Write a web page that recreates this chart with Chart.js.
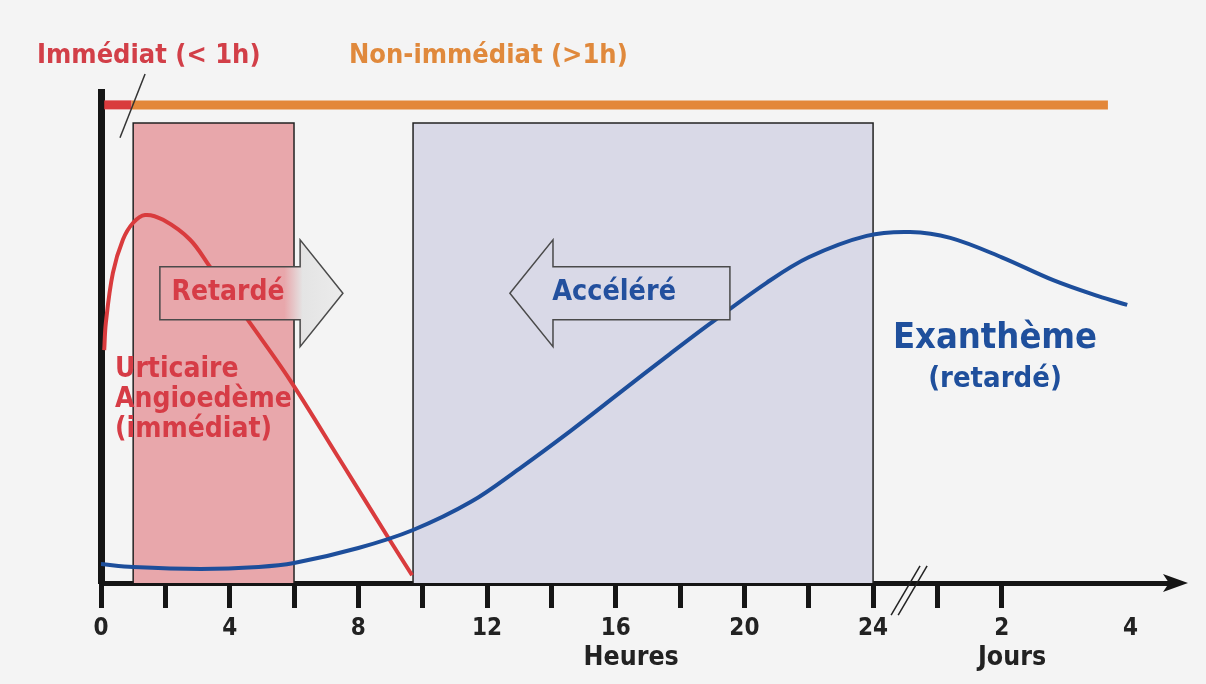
<!DOCTYPE html>
<html lang="fr">
<head>
<meta charset="UTF-8">
<title>Immédiat / Non-immédiat</title>
<script src="https://cdn.jsdelivr.net/npm/chart.js@4.4.1/dist/chart.umd.min.js"></script>
<style>
  html, body { margin: 0; padding: 0; background: #f4f4f4; }
  #wrap { width: 1206px; height: 684px; }
</style>
</head>
<body>
<div id="wrap"><canvas id="chart"></canvas></div>
<script>
// axe x : heures 0-24, puis coupure ; 28 -> 2 jours, 32 -> 4 jours
const tickValues = [0, 2, 4, 6, 8, 10, 12, 14, 16, 18, 20, 22, 24, 26, 28, 32]
const tickLabels = ['0', '', '4', '', '8', '', '12', '', '16', '', '20', '', '24', '', '2', '4']

// Exanthème (retardé)
const exanthemeX = [0, 1.0, 3.1, 4.9, 6.0, 8.0, 9.7, 11.5, 13.0, 14.6, 16.1, 17.7, 18.9, 20.7, 22.0, 23.8, 25.15, 26.4, 28.0, 29.6, 31.0, 31.9]
const exanthemeY = [3.9, 3.3, 2.9, 3.3, 4.1, 7.2, 10.9, 16.7, 23.5, 31.3, 39.0, 47.2, 53.2, 61.8, 67.0, 71.4, 72.2, 71.0, 67.0, 62.3, 59.0, 57.2]

// Urticaire / Angioedème (immédiat)
const urticaireX = [0.1, 0.15, 0.37, 0.68, 1.0, 1.37, 1.93, 2.77, 3.39, 4.63, 5.87, 7.43, 8.98, 9.67]
const urticaireY = [47.9, 53.5, 63.8, 70.6, 74.1, 75.7, 74.7, 70.6, 65.0, 53.5, 41.8, 25.3, 8.8, 1.6]

// fenêtres de lecture (heures)
const fenetreRetard = [1, 6]
const fenetreAccel = [9.7, 24]
const hautFenetre = 94.6
const limiteImmediat = 0.95
const finNonImmediat = 31.3
const niveauBandeau = 98.35

const pts = (xs, ys) => xs.map((v, i) => ({x: v, y: ys[i]}))
const boite = (f) => [{x: f[0], y: 0}, {x: f[0], y: hautFenetre}, {x: f[1], y: hautFenetre}, {x: f[1], y: 0}]

const FONT = '"DejaVu Sans Condensed", "DejaVu Sans", sans-serif'

function arrow(ctx, x, y, tail, base, tip, cy, bh, hh, fill) {
    const X = v => x.getPixelForValue(v), Y = v => y.getPixelForValue(v)
    ctx.beginPath()
    ctx.moveTo(X(tail), Y(cy + bh))
    ctx.lineTo(X(base), Y(cy + bh))
    ctx.lineTo(X(base), Y(cy + hh))
    ctx.lineTo(X(tip), Y(cy))
    ctx.lineTo(X(base), Y(cy - hh))
    ctx.lineTo(X(base), Y(cy - bh))
    ctx.lineTo(X(tail), Y(cy - bh))
    ctx.closePath()
    ctx.fillStyle = fill
    ctx.fill()
    ctx.strokeStyle = '#4a4a4a'
    ctx.lineWidth = 1.5
    ctx.stroke()
}

function text(ctx, x, y, str, xv, yv, size, color, align, base) {
    ctx.font = 'bold ' + size + 'px ' + FONT
    ctx.fillStyle = color
    ctx.textAlign = align || 'left'
    ctx.textBaseline = base || 'alphabetic'
    ctx.fillText(str, x.getPixelForValue(xv), y.getPixelForValue(yv))
}

const overlay = {
    id: 'overlay',
    afterDatasetsDraw(chart) {
        const {ctx, scales: {x, y}} = chart
        ctx.save()
        // flèche Retardé (dégradé rose -> gris)
        const g = ctx.createLinearGradient(x.getPixelForValue(1.83), 0, x.getPixelForValue(7.52), 0)
        g.addColorStop(0, '#e8a7ab')
        g.addColorStop(0.68, '#e8a7ab')
        g.addColorStop(0.78, '#e4e4e4')
        g.addColorStop(1, '#ececec')
        arrow(ctx, x, y, 1.83, 6.19, 7.52, 59.6, 5.45, 11, g)
        // flèche Accéléré
        arrow(ctx, x, y, 19.55, 14.05, 12.71, 59.6, 5.45, 11, '#d9d9e7')
        ctx.restore()
    },
    afterDraw(chart) {
        const {ctx, chartArea, scales: {x, y}} = chart
        ctx.save()
        // pointe de l'axe x
        const ay = y.getPixelForValue(0)
        ctx.strokeStyle = '#151515'
        ctx.lineWidth = 5
        ctx.beginPath()
        ctx.moveTo(chartArea.right - 2, ay)
        ctx.lineTo(chartArea.right + 8, ay)
        ctx.stroke()
        ctx.fillStyle = '#151515'
        ctx.beginPath()
        ctx.moveTo(chartArea.right - 7, ay - 9)
        ctx.lineTo(chartArea.right + 18, ay)
        ctx.lineTo(chartArea.right - 7, ay + 9)
        ctx.lineTo(chartArea.right - 1, ay)
        ctx.closePath()
        ctx.fill()
        // coupure //
        ctx.lineWidth = 1.5
        ctx.strokeStyle = '#222'
        for (const d of [0, 0.22]) {
            ctx.beginPath()
            ctx.moveTo(x.getPixelForValue(24.56 + d), y.getPixelForValue(-6.6))
            ctx.lineTo(x.getPixelForValue(25.46 + d), y.getPixelForValue(3.5))
            ctx.stroke()
        }
        // textes
        text(ctx, x, y, 'Immédiat (< 1h)', -1.99, 107, 27, '#d23f48')
        text(ctx, x, y, 'Non-immédiat (>1h)', 7.71, 107, 27, '#e0893c')
        text(ctx, x, y, 'Retardé', 3.95, 59.7, 28, '#d63c46', 'center', 'middle')
        text(ctx, x, y, 'Accéléré', 15.95, 59.7, 28.5, '#23509e', 'center', 'middle')
        text(ctx, x, y, 'Urticaire', 0.435, 42.4, 28, '#d63c46')
        text(ctx, x, y, 'Angioedème', 0.435, 36.2, 28, '#d63c46')
        text(ctx, x, y, '(immédiat)', 0.435, 30.0, 28, '#d63c46')
        text(ctx, x, y, 'Exanthème', 27.79, 48.35, 36, '#1f4f9c', 'center')
        text(ctx, x, y, '(retardé)', 27.79, 40.3, 29, '#1f4f9c', 'center')
        text(ctx, x, y, 'Heures', 16.48, -15.4, 26.5, '#222', 'center', 'middle')
        text(ctx, x, y, 'Jours', 28.32, -15.4, 26.5, '#222', 'center', 'middle')
        ctx.restore()
    }
}

const line = (data, color, width, order, extra) => Object.assign({
    data: data, borderColor: color, borderWidth: width, pointRadius: 0,
    fill: false, order: order, tension: 0
}, extra || {})

new Chart('chart', {
    type: 'line',
    data: {
        datasets: [
            line(pts(exanthemeX, exanthemeY), '#1d4e9b', 4, 1, {tension: 0.35}),
            line(pts(urticaireX, urticaireY), '#d93b3d', 4, 1, {tension: 0.35}),
            line(boite(fenetreRetard), '#222', 1.5, 5, {fill: 'origin', backgroundColor: '#e8a7ab'}),
            line(boite(fenetreAccel), '#222', 1.5, 5, {fill: 'origin', backgroundColor: '#d9d9e7'}),
            line([{x: limiteImmediat, y: niveauBandeau}, {x: finNonImmediat, y: niveauBandeau}], '#e3873a', 9, 3, {borderCapStyle: 'butt'}),
            line([{x: 0.1, y: niveauBandeau}, {x: limiteImmediat, y: niveauBandeau}], '#d93b3d', 9, 3),
            line([{x: 0.59, y: 91.6}, {x: 1.37, y: 104.7}], '#333', 1.5, 2, {clip: false})
        ]
    },
    options: {
        responsive: true,
        maintainAspectRatio: false,
        animation: false,
        layout: {padding: {left: 101, right: 36, top: 92, bottom: 0}},
        plugins: {legend: {display: false}, tooltip: {enabled: false}},
        scales: {
            x: {
                type: 'linear', min: 0, max: 33.23, z: 1,
                afterBuildTicks: s => { s.ticks = tickValues.map(v => ({value: v})) },
                afterFit: s => { s.height = 101 },
                grid: {
                    drawOnChartArea: false, drawTicks: true, tickLength: 25, tickWidth: 5,
                    tickColor: c => c.tick && c.tick.value === 32 ? 'rgba(0,0,0,0)' : '#151515'
                },
                border: {display: true, color: '#151515', width: 5},
                ticks: {
                    autoSkip: false, maxRotation: 0, padding: 6, color: '#222',
                    font: {family: FONT, weight: 'bold', size: 24},
                    callback: v => tickLabels[tickValues.indexOf(v)]
                }
            },
            y: {
                type: 'linear', min: 0, max: 101, z: 1,
                afterFit: s => { s.width = 0 },
                grid: {display: false, drawTicks: false},
                border: {display: true, color: '#151515', width: 7},
                ticks: {display: false}
            }
        }
    },
    plugins: [overlay]
})
</script>
</body>
</html>
